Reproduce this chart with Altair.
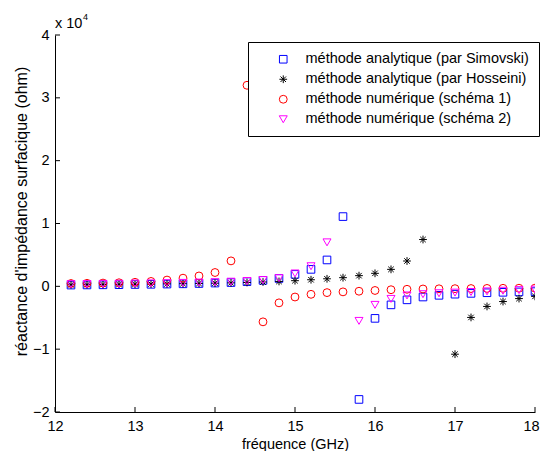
import altair as alt
import pandas as pd

# ---------------- data ----------------
freq = [12.2, 12.4, 12.6, 12.8, 13.0, 13.2, 13.4, 13.6, 13.8, 14.0,
        14.2, 14.4, 14.6, 14.8, 15.0, 15.2, 15.4, 15.6, 15.8, 16.0,
        16.2, 16.4, 16.6, 16.8, 17.0, 17.2, 17.4, 17.6, 17.8, 18.0]

simovski = [200, 220, 240, 260, 290, 320, 360, 400, 450, 520,
            600, 750, 950, 1250, 1900, 2700, 4200, 11100, -18000, -5100,
            -2950, -2150, -1700, -1430, -1250, -1120, -1020, -950, -890, -840]

hosseini = [250, 270, 290, 310, 330, 360, 390, 420, 460, 500,
            550, 610, 690, 780, 900, 1050, 1200, 1380, 1700, 2070,
            2700, 4030, 7450, None, -10800, -4950, -3200, -2420, -1950, -1600]

schema1 = [450, 480, 520, 570, 640, 780, 1000, 1300, 1650, 2200,
           4050, 32000, -5650, -2630, -1700, -1270, -1000, -880, -780, -660,
           -540, -470, -420, -390, -370, -350, -330, -310, -300, -290]

schema2 = [350, 370, 390, 410, 440, 470, 510, 550, 600, 660,
           740, 850, 1000, 1300, 2050, 3200, 7000, None, -5500, -2950,
           -2000, -1450, -1250, -1100, -1000, -900, -800, -700, -600, -520]

series_names = ["méthode analytique (par Simovski)",
                "méthode analytique (par Hosseini)",
                "méthode numérique (schéma 1)",
                "méthode numérique (schéma 2)"]
series_colors = ["#0000ff", "#000000", "#ff0000", "#ff00ff"]
ASTERISK = ("M-1,0L1,0M0,-1L0,1M-0.7071,-0.7071L0.7071,0.7071"
            "M-0.7071,0.7071L0.7071,-0.7071")
series_shapes = ["square", ASTERISK, "circle", "triangle-down"]
series_sizes = [58, 64, 70, 80]

x_ticks = [12, 13, 14, 15, 16, 17, 18]
y_ticks = [-20000, -10000, 0, 10000, 20000, 30000, 40000]
x_title = "fréquence (GHz)"
y_title = "réactance d'impédance surfacique (ohm)"
mult_text = ["x 10"]
mult_exp = ["4"]

# ---------------- table ----------------
rows = []
for k, (name, vals) in enumerate(zip(series_names, [simovski, hosseini, schema1, schema2])):
    for f, v in zip(freq, vals):
        if v is not None:
            rows.append({"f": f, "v": v, "s": name, "k": k})
df = pd.DataFrame(rows)

W, H = 480, 377
FONT = "Liberation Sans"
FS = 14.5

xs = alt.Scale(domain=[12, 18], nice=False, zero=False)
ys = alt.Scale(domain=[-20000, 40000], nice=False, zero=False)

x_axis = alt.Axis(values=x_ticks, format="d", title=x_title, tickSize=0,
                  labelPadding=7, labelFlush=False, grid=False,
                  labelOffset={"condition": {"test": "datum.value == 18", "value": -4}, "value": 0},
                  titleY=25, titleBaseline="top")
y_axis = alt.Axis(values=y_ticks, labelExpr="format(datum.value/10000,'d')",
                  title=y_title, tickSize=0, labelPadding=6, grid=False,
                  titleFontSize=16, titleX=-34, titleY=176, titleBaseline="middle")

leg = alt.Legend(title=None, orient="none", legendX=193, legendY=7,
                 strokeColor="black", fillColor="white", padding=10,
                 labelFontSize=FS, labelFont=FONT, labelColor="black",
                 symbolSize=50, symbolStrokeWidth=1, labelOffset=15,
                 symbolOffset=18, rowPadding=5, labelLimit=400)

points = alt.Chart(df).mark_point(filled=False, strokeWidth=1, clip=True, opacity=1).encode(
    x=alt.X("f:Q", scale=xs, axis=x_axis),
    y=alt.Y("v:Q", scale=ys, axis=y_axis),
    color=alt.Color("s:N", scale=alt.Scale(domain=series_names, range=series_colors), legend=leg),
    shape=alt.Shape("s:N", scale=alt.Scale(domain=series_names, range=series_shapes), legend=leg),
    size=alt.Size("s:N", scale=alt.Scale(domain=series_names, range=series_sizes), legend=None),
    order=alt.Order("k:Q"),
)

xt = alt.Chart(pd.DataFrame({"t": x_ticks})).mark_rule(color="black", strokeWidth=1).encode(
    x=alt.X("t:Q", scale=xs, axis=x_axis),
    y=alt.value(H), y2=alt.value(H - 5),
)
yt = alt.Chart(pd.DataFrame({"t": y_ticks})).mark_rule(color="black", strokeWidth=1).encode(
    y=alt.Y("t:Q", scale=ys, axis=y_axis),
    x=alt.value(0), x2=alt.value(5),
)

mult = alt.Chart(pd.DataFrame({"t": mult_text})).mark_text(
    align="left", baseline="alphabetic", fontSize=FS, font=FONT, color="black").encode(
    x=alt.value(0), y=alt.value(-7), text="t:N")
expo = alt.Chart(pd.DataFrame({"t": mult_exp})).mark_text(
    align="left", baseline="alphabetic", fontSize=9, font=FONT, color="black").encode(
    x=alt.value(28), y=alt.value(-15), text="t:N")

chart = alt.layer(points, xt, yt, mult, expo).properties(
    width=W, height=H,
    padding={"left": 47, "top": 27, "right": 5, "bottom": 39},
    autosize=alt.AutoSizeParams(type="none"),
    background="white",
).configure_view(strokeWidth=0).configure_axis(
    labelFont=FONT, titleFont=FONT, labelFontSize=FS, titleFontSize=FS,
    labelColor="black", titleColor="black", domainColor="black",
    titleFontWeight="normal", domainWidth=1,
)

chart.save("out.html", embed_options={"renderer": "svg", "actions": False})
